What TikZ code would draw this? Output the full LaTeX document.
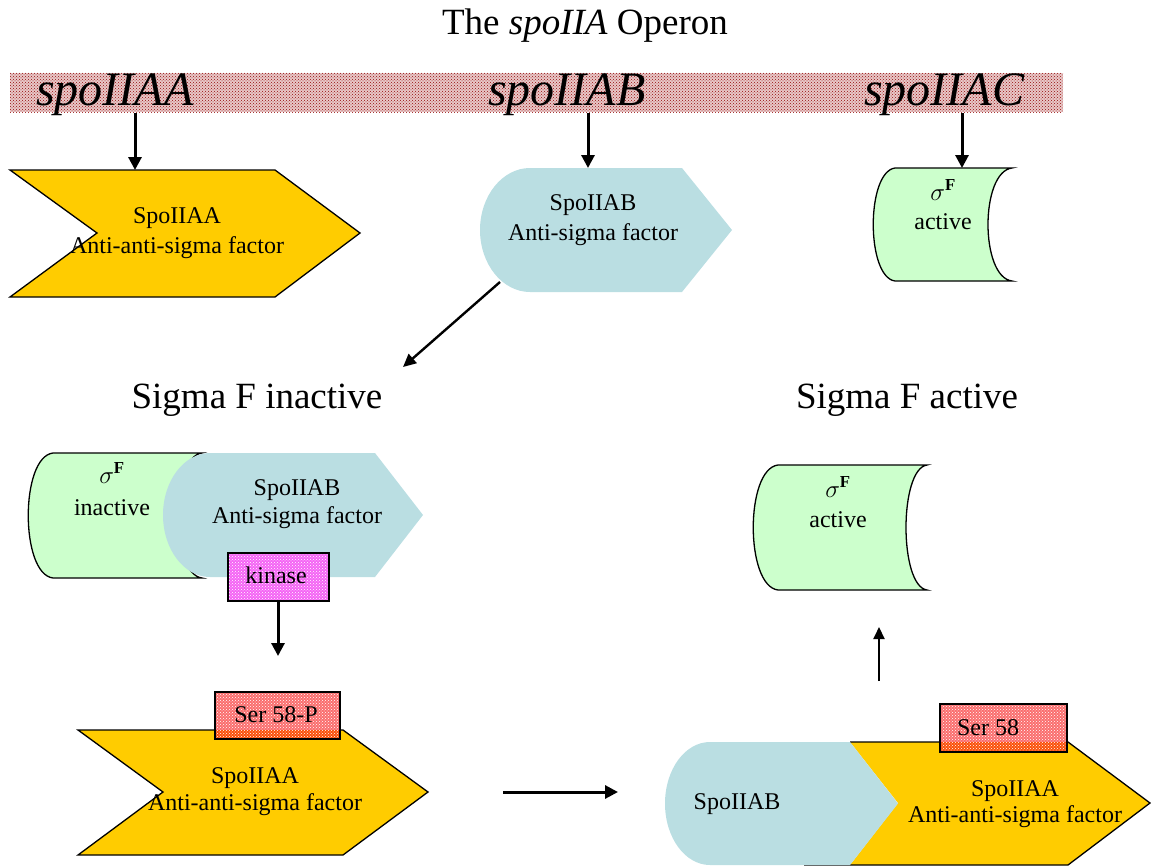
\documentclass[tikz,border=0pt]{standalone}
\usepackage{fontspec}
\setmainfont{Liberation Serif}
\usetikzlibrary{arrows.meta,patterns}
\definecolor{yel}{RGB}{255,204,0}
\definecolor{blu}{RGB}{186,222,226}
\definecolor{grn}{RGB}{204,255,204}
\definecolor{mag}{RGB}{245,100,245}
\definecolor{serred}{RGB}{250,110,110}
\definecolor{serorange}{RGB}{250,80,10}
\definecolor{bandbase}{RGB}{232,200,200}
\definecolor{banddot}{RGB}{150,10,10}
\begin{document}
\begin{tikzpicture}[x=1pt,y=-1pt,
  lbl/.style={font=\fontsize{24}{26}\selectfont, inner sep=0pt, anchor=base},
  big/.style={font=\fontsize{37}{40}\selectfont, inner sep=0pt, anchor=base},
  gene/.style={font=\fontsize{48}{50}\selectfont\itshape, inner sep=0pt, anchor=base west},
  arr/.style={line width=3pt, -{Triangle[length=13pt,width=13pt]}},
  thinarr/.style={line width=2.4pt, -{Triangle[length=13pt,width=12pt]}},
  yelshape/.style={fill=yel, draw=black, line width=1.3pt, line join=miter},
  blushape/.style={fill=blu},
  grnshape/.style={fill=grn, draw=black, line width=1.3pt},
  dotbox/.style={pattern=crosshatch dots, pattern color=white}
]
\useasboundingbox (0,0) rectangle (1151,867);

% title
\node[big] (title) at (585,35) {The \textit{spoIIA} Operon};

% gene band
\fill[bandbase] (10,73) rectangle (1063,112);
\fill[pattern=crosshatch dots, pattern color=banddot] (10,73) rectangle (1063,112);
\node[gene] (gA) at (36,105) {spoIIAA};
\node[gene] (gB) at (488,105) {spoIIAB};
\node[gene] (gC) at (864,105) {spoIIAC};

% top row shapes
\path[yelshape] (10,170) -- (275,170) -- (360,233) -- (275,297) -- (10,297) -- (97,233) -- cycle;
\node[lbl] (aa1) at (177,223) {SpoIIAA};
\node[lbl] (aa1b) at (177,253) {Anti-anti-sigma factor};

\path[blushape] (530,168) -- (682,168) -- (732,230) -- (682,292) -- (530,292)
  .. controls (502.4,292) and (480,264.2) .. (480,230)
  .. controls (480,195.8) and (502.4,168) .. (530,168) -- cycle;
\node[lbl] (ab1) at (593,210) {SpoIIAB};
\node[lbl] (ab1b) at (593,240) {Anti-sigma factor};

\path[grnshape] (895,168) -- (1012,168)
  .. controls (980,172) and (980,277) .. (1012,281) -- (895,281)
  .. controls (866,277) and (866,172) .. (895,168) -- cycle;
\node[lbl] (sf1) at (943,200) {$\sigma^{\mathbf{F}}$};
\node[lbl] (sf1b) at (943,229) {active};

% arrows from genes
\coordinate (gAo) at (135,113); \coordinate (aa1t) at (135,170);
\coordinate (gBo) at (588,113); \coordinate (ab1t) at (588,168);
\coordinate (gCo) at (962,113); \coordinate (sf1t) at (962,168);
\draw[arr] (gAo) -- (aa1t);
\draw[arr] (gBo) -- (ab1t);
\draw[arr] (gCo) -- (sf1t);

% diagonal arrow
\coordinate (ab1bl) at (500,282);
\coordinate (inact) at (403,367);
\draw[thinarr] (ab1bl) -- (inact);

% section headings
\node[big] (hInact) at (257,408) {Sigma F inactive};
\node[big] (hAct) at (907,408) {Sigma F active};

% bottom-left complex
\path[grnshape] (53,453) -- (202,453)
  .. controls (170,457) and (170,574) .. (202,578) -- (53,578)
  .. controls (20,574) and (20,457) .. (53,453) -- cycle;
\node[lbl] (sf2) at (112,483) {$\sigma^{\mathbf{F}}$};
\node[lbl] (sf2b) at (112,515) {inactive};

\path[blushape] (210,453) -- (375,453) -- (423,515) -- (375,577) -- (210,577)
  .. controls (184,577) and (163,549.2) .. (163,515)
  .. controls (163,480.8) and (184,453) .. (210,453) -- cycle;
\node[lbl] (ab2) at (297,495) {SpoIIAB};
\node[lbl] (ab2b) at (297,523) {Anti-sigma factor};

\fill[mag] (228,553) rectangle (329,601);
\fill[dotbox] (228,553) rectangle (329,601);
\draw[line width=1.2pt] (228,553) rectangle (329,601);
\node[lbl] (kin) at (276,583) {kinase};

\coordinate (kinb) at (278,602);
\coordinate (serPt) at (278,656);
\draw[arr] (kinb) -- (serPt);

% bottom-left phosphorylated SpoIIAA
\path[yelshape] (78,730) -- (343,730) -- (428,792) -- (343,855) -- (78,855) -- (163,792) -- cycle;
\node[lbl] (aa2) at (255,783) {SpoIIAA};
\node[lbl] (aa2b) at (255,810) {Anti-anti-sigma factor};

\fill[serred] (215,692) rectangle (340,730);
\fill[serorange] (215,730) rectangle (340,739);
\fill[dotbox] (215,692) rectangle (340,739);
\draw[line width=1.2pt] (215,692) rectangle (340,739);
\node[lbl] (ser1) at (276,722) {Ser 58-P};

% horizontal arrow
\coordinate (h1) at (503,792);
\coordinate (h2) at (618,792);
\draw[arr] (h1) -- (h2);

% bottom-right complex
\fill[yel] (850,742) -- (1068,742) -- (1150,803) -- (1068,865) -- (850,865) -- (898,803) -- cycle;
\draw[line width=1.3pt, line join=miter] (850,742) -- (1068,742) -- (1150,803) -- (1068,865) -- (804,865);
\path[blushape] (710,742) -- (850,742) -- (898,803.5) -- (850,865) -- (710,865)
  .. controls (685,865) and (665,837.5) .. (665,803.5)
  .. controls (665,769.5) and (685,742) .. (710,742) -- cycle;
\node[lbl] (ab3) at (737,809) {SpoIIAB};
\node[lbl] (aa3) at (1015,796) {SpoIIAA};
\node[lbl] (aa3b) at (1015,822) {Anti-anti-sigma factor};

\fill[serred] (940,704) rectangle (1067,742);
\fill[serorange] (940,742) rectangle (1067,752);
\fill[dotbox] (940,704) rectangle (1067,752);
\draw[line width=1.2pt] (940,704) rectangle (1067,752);
\node[lbl] (ser2) at (988,735) {Ser 58};

% up arrow
\coordinate (u1) at (879,681);
\coordinate (u2) at (879,627);
\draw[line width=2pt, -{Triangle[length=12pt,width=11pt]}] (u1) -- (u2);

% active sigma F
\path[grnshape] (778,465) -- (927,465)
  .. controls (899,469) and (899,586) .. (927,590) -- (778,590)
  .. controls (745,586) and (745,469) .. (778,465) -- cycle;
\node[lbl] (sf3) at (838,497) {$\sigma^{\mathbf{F}}$};
\node[lbl] (sf3b) at (838,527) {active};
\end{tikzpicture}
\end{document}
